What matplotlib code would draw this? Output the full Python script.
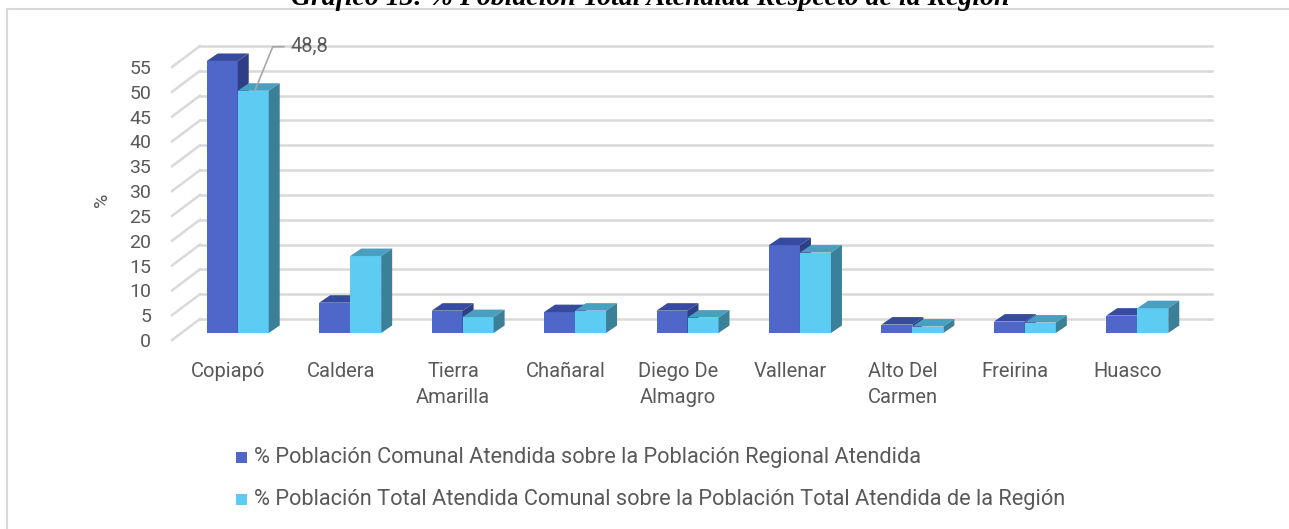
import matplotlib.pyplot as plt
from matplotlib.patches import Rectangle, Polygon
import numpy as np

comunas = ['Copiapó', 'Caldera', 'Tierra\nAmarilla', 'Chañaral', 'Diego De\nAlmagro',
           'Vallenar', 'Alto Del\nCarmen', 'Freirina', 'Huasco']
pct_comunal = [54.8, 6.1, 4.5, 4.2, 4.5, 17.7, 1.7, 2.3, 3.5]
pct_total = [48.8, 15.5, 3.2, 4.5, 3.1, 16.2, 1.3, 2.1, 5.0]
yticks = np.arange(0, 56, 5)

serie1 = '% Población Comunal Atendida sobre la Población Regional Atendida'
serie2 = '% Población Total Atendida Comunal sobre la Población Total Atendida de la Región'
titulo = 'Gráfico 13: % Población Total Atendida Respecto de la Región'

plt.rcParams['font.family'] = ['Roboto', 'DejaVu Sans']
gris = '#595959'
grid_c = '#D9D9D9'
azul = ('#4E67C8', '#374B9E', '#2F3F87')
celeste = ('#5DCCF3', '#4A9EBF', '#3A8099')

W, H = 1289, 529
fig = plt.figure(figsize=(W / 100, H / 100), dpi=100)

# marco del grafico
fig.patches.append(Rectangle((7 / W, -0.1), 1.2, 1 - 9 / H + 0.1, transform=fig.transFigure,
                             fill=False, ec=grid_c, lw=1.5))
fig.text(650 / W, 1 - 5 / H, titulo, ha='center', va='baseline', fontsize=20,
         family='Liberation Serif', weight='bold', style='italic', color='black')

# ejes (plano frontal)
x0, x1, ybase, ppu = 172, 1184, 340, 4.964
ymax = 60
ax = fig.add_axes([x0 / W, (H - ybase) / H, (x1 - x0) / W, ymax * ppu / H])
ax.set_xlim(-0.5, 8.5)
ax.set_ylim(0, ymax)
for s in ax.spines.values():
    s.set_visible(False)

ux = 9 / (x1 - x0)   # unidades de datos por pixel
uy = 1 / ppu

# pared y lineas de division
wdx, wdy = 28 * ux, 21 * uy
for v in yticks:
    ax.plot([-0.5, -0.5 + wdx], [v, v + wdy], color=grid_c, lw=1.8, clip_on=False, zorder=1)
    ax.plot([-0.5 + wdx, 8.5 + wdx], [v + wdy, v + wdy], color=grid_c, lw=1.8,
            clip_on=False, zorder=1)

# barras 3D
bw = 31 * ux
bdx, bdy = 9.5 * ux, 7 * uy
ddx, ddy = 11 * ux, 7.5 * uy
x = np.arange(len(comunas))

def caras(xs, vals, cols):
    ax.bar(xs + bdx, vals, width=bw, bottom=bdy, align='edge', color=cols[0], lw=0, zorder=3)
    for xi, v in zip(xs, vals):
        l, r, t, b = xi + bdx, xi + bdx + bw, bdy + v, bdy
        ax.add_patch(Polygon([(l, t), (r, t), (r + ddx, t + ddy), (l + ddx, t + ddy)],
                             closed=True, fc=cols[1], lw=0, zorder=3))
        ax.add_patch(Polygon([(r, b), (r + ddx, b + ddy), (r + ddx, t + ddy), (r, t)],
                             closed=True, fc=cols[2], lw=0, zorder=3))

for i in range(len(comunas)):
    caras(x[i:i + 1] - bw, pct_comunal[i:i + 1], azul)
    caras(x[i:i + 1], pct_total[i:i + 1], celeste)

# etiqueta de datos
lx = x[0] + bdx + bw * 0.55
ly = bdy + pct_total[0]
ax.plot([lx, lx + 18 * ux, lx + 29 * ux], [ly, ly + 44 * uy, ly + 44 * uy],
        color='#A6A6A6', lw=1.2, clip_on=False, zorder=4)
ax.text(lx + 36 * ux, ly + 44 * uy, f'{pct_total[0]:.1f}'.replace('.', ','), ha='left',
        va='center', fontsize=14.5, color=gris)

ax.set_yticks(yticks)
ax.set_yticklabels([str(v) for v in yticks], fontsize=14, color=gris)
ax.set_xticks(x)
ax.set_xticklabels(comunas, fontsize=14.5, color=gris, linespacing=1.45)
ax.tick_params(axis='y', length=0, pad=15)
ax.tick_params(axis='x', length=0, pad=16)
fig.text(102 / W, 1 - 200 / H, '%', rotation=90, ha='center', va='center',
         fontsize=14, color=gris)

# leyenda
for yy, col, txt in [(457, azul[0], serie1), (499, celeste[0], serie2)]:
    fig.patches.append(Rectangle((236 / W, 1 - (yy + 5.5) / H), 11 / W, 11 / H,
                                 transform=fig.transFigure, fc=col, lw=0))
    fig.text(254 / W, 1 - yy / H, txt, ha='left', va='center', fontsize=15.7, color=gris)

fig.savefig('out.png', dpi=100)
